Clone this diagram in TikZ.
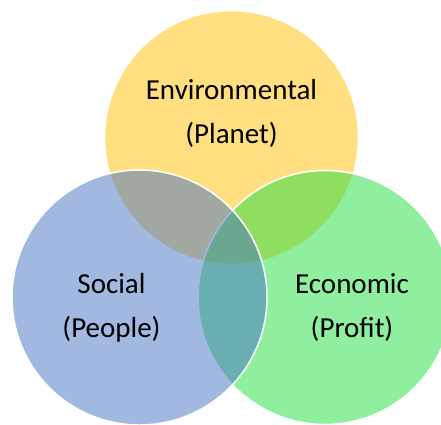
\documentclass[tikz,border=0pt]{standalone}
\usepackage{fontspec}
\setmainfont{Carlito}
\definecolor{planet}{RGB}{255,192,0}
\definecolor{profit}{RGB}{33,221,63}
\definecolor{people}{RGB}{68,114,196}
\tikzset{
  venn/.style={fill opacity=.5, draw=white, line width=1.5pt},
  lbl/.style={align=center, font=\fontsize{29}{44}\selectfont}
}
\begin{document}
\begin{tikzpicture}[x=1pt, y=-1pt]
        \useasboundingbox (0,0) rectangle (441,424);
        \clip (0,0) rectangle (441,424);
        % the three circles, blue one last
        \draw[venn, fill=planet] (231.5,137.5) circle (127pt);
        \draw[venn, fill=profit] (325,297.5) circle (127pt);
        \draw[venn, fill=people] (139.5,297.5) circle (127.5pt);
        \node[lbl] (env) at (231.5,113) {Environmental\\(Planet)};
        \node[lbl] (soc) at (111.5,308) {Social\\(People)};
        \node[lbl] (eco) at (352,308) {Economic\\(Profit)};
      \end{tikzpicture}
\end{document}
